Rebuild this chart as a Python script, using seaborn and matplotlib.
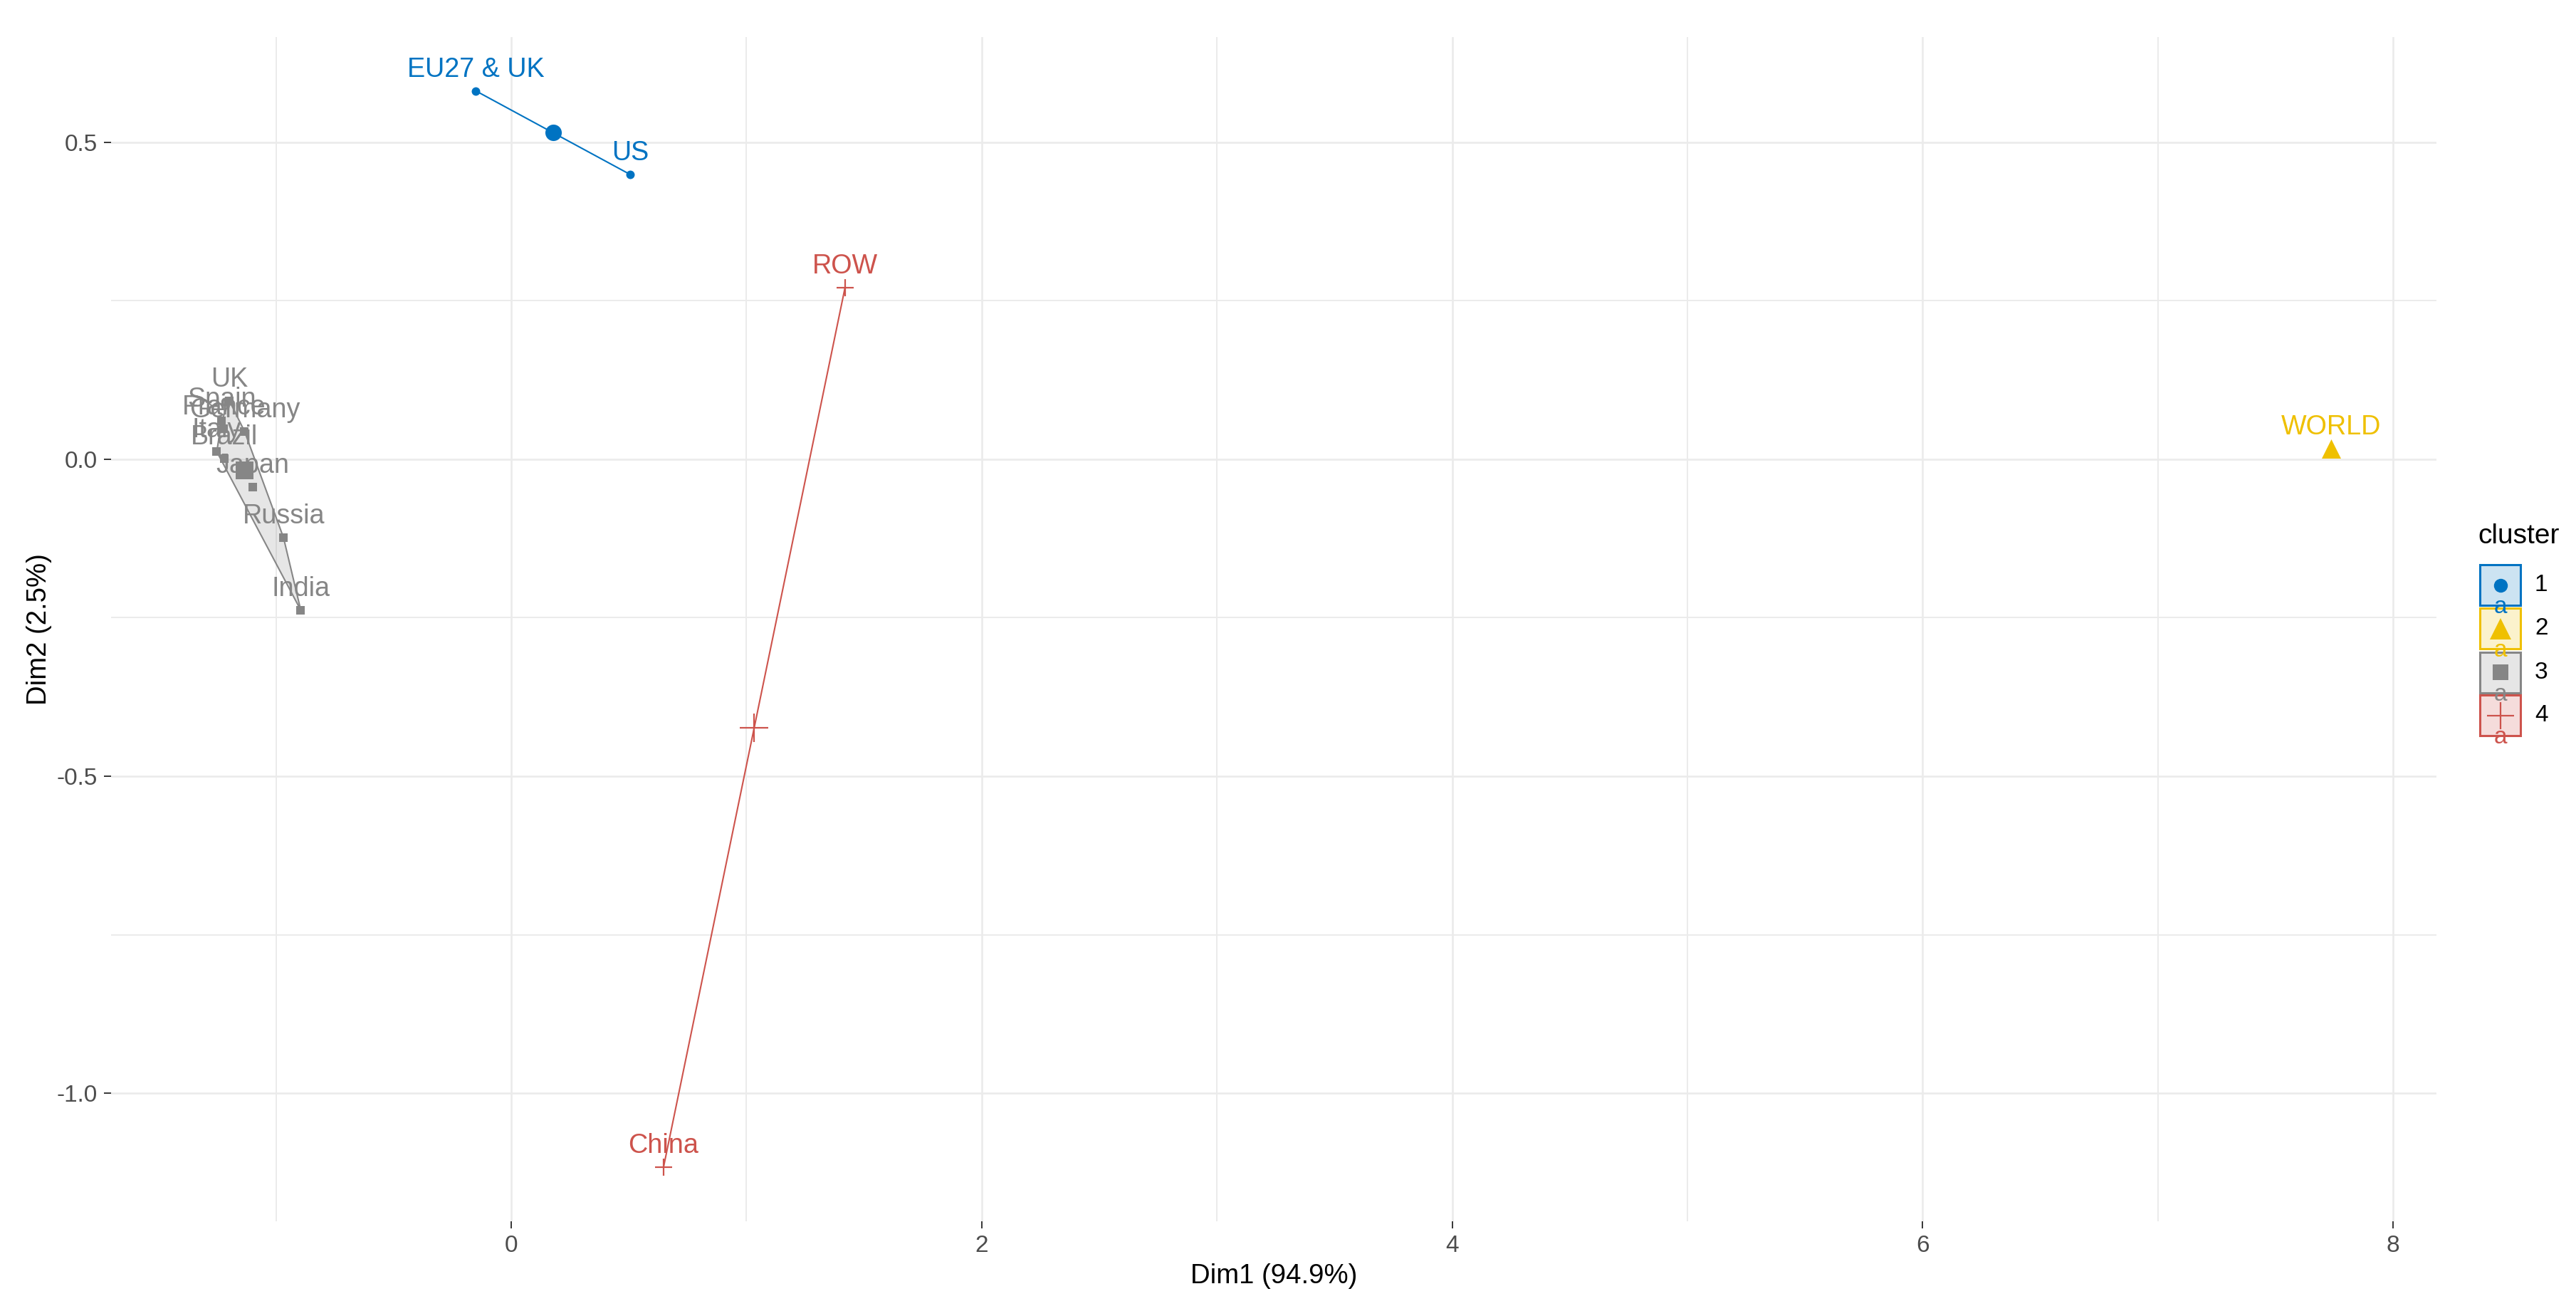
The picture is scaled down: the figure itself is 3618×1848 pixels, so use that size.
import numpy as np
import pandas as pd
import matplotlib
matplotlib.use("Agg")
import matplotlib.pyplot as plt
import seaborn as sns
from matplotlib.patches import Polygon, Rectangle
from matplotlib.lines import Line2D
from matplotlib.colors import to_rgba

# ---------------- data ----------------
names = ["EU27 & UK", "US", "WORLD", "UK", "Spain", "France", "Germany",
         "Italy", "Brazil", "Japan", "Russia", "India", "ROW", "China"]
dim1 = [-0.151, 0.506, 7.735, -1.198, -1.231, -1.222, -1.134,
        -1.252, -1.219, -1.098, -0.968, -0.895, 1.419, 0.647]
dim2 = [0.581, 0.449, 0.017, 0.092, 0.061, 0.048, 0.044,
        0.012, 0.001, -0.044, -0.124, -0.238, 0.271, -1.117]
clusters = ["1", "1", "2", "3", "3", "3", "3", "3", "3", "3", "3", "3", "4", "4"]

cluster_ids = ["1", "2", "3", "4"]
palette = ["#0073C2", "#EFC000", "#868686", "#CD534C"]
markers = ["o", "^", "s", "+"]
x_ticks = [0, 2, 4, 6, 8]
y_ticks = [-1.0, -0.5, 0.0, 0.5]
x_label = "Dim1 (94.9%)"
y_label = "Dim2 (2.5%)"
legend_title = "cluster"

# ---------------- style ----------------
sns.set_style("white")
plt.rcParams["font.family"] = ["Liberation Sans", "DejaVu Sans"]
plt.rcParams["axes.unicode_minus"] = False

W, H, DPI = 3618, 1848, 200
fig = plt.figure(figsize=(W / DPI, H / DPI), dpi=DPI)
L, R, T, B = 156, 3422, 52, 1715
ax = fig.add_axes([L / W, 1 - B / H, (R - L) / W, (B - T) / H])

df = pd.DataFrame({"name": names, "Dim1": dim1, "Dim2": dim2, "cluster": clusters})
col_map = dict(zip(cluster_ids, palette))
mark_map = dict(zip(cluster_ids, markers))
small_s = {"1": 18.5, "2": 25, "3": 18.5, "4": 74}
big_s = {"1": 69, "2": 94, "3": 81, "4": 207}


def convex_hull(points):
    pts = sorted(set(map(tuple, points)))
    if len(pts) <= 2:
        return pts

    def cross(o, a, b):
        return (a[0] - o[0]) * (b[1] - o[1]) - (a[1] - o[1]) * (b[0] - o[0])

    lower, upper = [], []
    for p in pts:
        while len(lower) >= 2 and cross(lower[-2], lower[-1], p) <= 0:
            lower.pop()
        lower.append(p)
    for p in reversed(pts):
        while len(upper) >= 2 and cross(upper[-2], upper[-1], p) <= 0:
            upper.pop()
        upper.append(p)
    return lower[:-1] + upper[:-1]


# hulls
for cid in cluster_ids:
    sub = df[df.cluster == cid]
    pts = sub[["Dim1", "Dim2"]].to_numpy()
    if len(pts) >= 2:
        h = convex_hull(pts)
        ax.add_patch(Polygon(h, closed=True, facecolor=to_rgba(col_map[cid], 0.2),
                             edgecolor=col_map[cid], linewidth=0.75, zorder=2))

# points
centroids = df.groupby("cluster")[["Dim1", "Dim2"]].mean().reset_index()
for cid in cluster_ids:
    sub = df[df.cluster == cid]
    cen = centroids[centroids.cluster == cid]
    col = col_map[cid]
    m = mark_map[cid]
    if m == "+":
        kw = dict(linewidth=0.8, color=col)
    else:
        kw = dict(linewidth=0, color=col)
    sns.scatterplot(data=sub, x="Dim1", y="Dim2", marker=m, s=small_s[cid],
                    ax=ax, legend=False, zorder=3, **kw)
    sns.scatterplot(data=cen, x="Dim1", y="Dim2", marker=m, s=big_s[cid],
                    ax=ax, legend=False, zorder=4, **kw)

# labels
for _, r in df.iterrows():
    ax.annotate(r["name"], (r["Dim1"], r["Dim2"]), xytext=(0, 7.2),
                textcoords="offset points", ha="center", va="baseline",
                fontsize=13.6, color=col_map[r["cluster"]], zorder=5)

# limits (ggplot-like 5% expansion)
xr = max(dim1) - min(dim1)
yr = max(dim2) - min(dim2)
ax.set_xlim(min(dim1) - 0.05 * xr, max(dim1) + 0.05 * xr)
ax.set_ylim(min(dim2) - 0.05 * yr, max(dim2) + 0.05 * yr)

ax.set_xticks(x_ticks)
ax.set_xticklabels([str(v) for v in x_ticks])
ax.set_yticks(y_ticks)
ax.set_yticklabels([f"{v:.1f}" for v in y_ticks])
ax.set_xticks([(a + b) / 2 for a, b in zip([-2] + x_ticks, x_ticks)], minor=True)
ax.set_yticks([(a + b) / 2 for a, b in zip(y_ticks[:-1], y_ticks[1:])], minor=True)
ax.tick_params(which="major", length=3.6, width=0.55, color="black",
               labelsize=12, labelcolor="#4D4D4D", pad=3.2,
               bottom=True, left=True)
ax.tick_params(which="minor", length=0)
ax.grid(which="major", color="#EBEBEB", linewidth=0.95)
ax.grid(which="minor", color="#EBEBEB", linewidth=0.7)
ax.set_axisbelow(True)
for s in ax.spines.values():
    s.set_visible(False)

ax.set_xlabel(x_label, fontsize=13.8, color="black")
ax.set_ylabel(y_label, fontsize=13.8, color="black")
ax.xaxis.set_label_coords(0.5, (B - 1792.5) / (B - T))
ax.xaxis.label.set_va("center")
ax.yaxis.set_label_coords((55 - L) / (R - L), 0.5)
ax.yaxis.label.set_va("center")
ax.yaxis.label.set_ha("center")

# ---------------- legend (manual, ggplot style) ----------------
def fx(px):
    return px / W


def fy(py):
    return 1 - py / H


fig.text(fx(3480), fy(753), legend_title, fontsize=14, ha="left", va="center",
         color="black")
key_left, key_size = 3483, 57
key_tops = [793, 854, 916, 976]
leg_s = {"1": 7.0, "2": 10.5, "3": 8.2, "4": 13.5}
for cid, top in zip(cluster_ids, key_tops):
    col = col_map[cid]
    fig.add_artist(Rectangle((fx(key_left), fy(top + key_size)), key_size / W, key_size / H,
                             transform=fig.transFigure, facecolor=to_rgba(col, 0.2),
                             edgecolor=col, linewidth=1.1))
    cx, cy = key_left + key_size / 2, top + key_size / 2
    m = mark_map[cid]
    fig.add_artist(Line2D([fx(cx)], [fy(cy)], transform=fig.transFigure, marker=m,
                          markersize=leg_s[cid], color=col, markeredgewidth=0.8 if m == "+" else 0,
                          linestyle="none"))
    fig.text(fx(cx), fy(top + key_size + 3), "a", fontsize=12, color=col,
             ha="center", va="center")
    fig.text(fx(3560), fy(cy), cid, fontsize=12, color="black", ha="left", va="center")

fig.savefig("out.png", dpi=DPI, facecolor="white")
